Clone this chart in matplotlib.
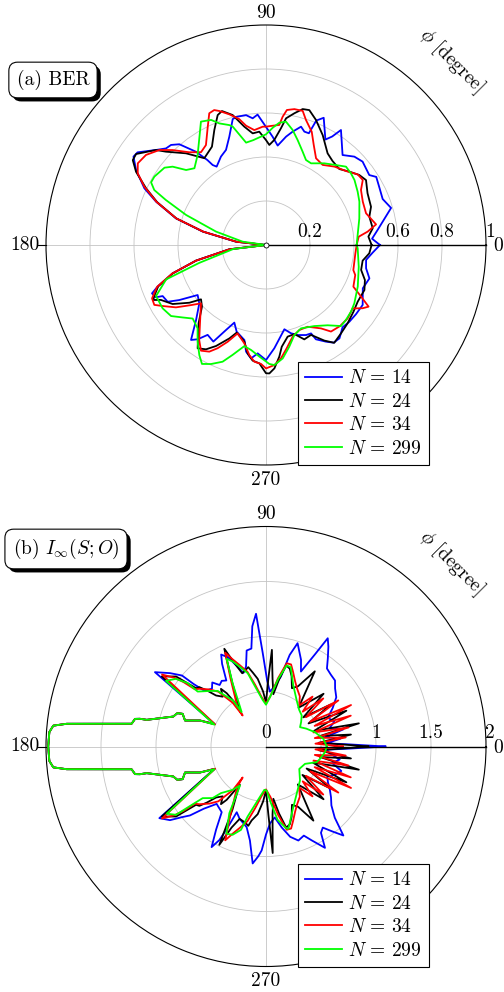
import numpy as np
import matplotlib
matplotlib.use("Agg")
import matplotlib.pyplot as plt
from matplotlib import patheffects

plt.rcParams['mathtext.fontset'] = 'cm'
plt.rcParams['font.family'] = ['cmr10', 'DejaVu Serif']
plt.rcParams['axes.formatter.use_mathtext'] = True

# ---------------- data : panel (a) BER ----------------
SERIES_LABELS = [r'$N\,=\,14$', r'$N\,=\,24$', r'$N\,=\,34$', r'$N\,=\,299$']
SERIES_COLORS = ['#0000ff', '#000000', '#ff0000', '#00ff00']

BER_T_14 = [0, 3.4, 7.7, 16.5, 21.5, 27, 31.7, 34.1, 40.8, 45, 49.6, 56.9, 58.6, 60.6, 65.6, 68, 69, 71.3, 73.5, 76.8,
            79.5, 83.3, 86.5, 89.5, 93.7, 96, 98.7, 102.9, 104.8, 108.7, 112.8, 117, 122.2, 123.7, 124.6, 126.9, 130.7,
            133.5, 136, 139.2, 144.2, 146.3, 150, 155, 158.5, 163.5, 168, 173.7, 180, 186.7, 192.6, 196.9, 201, 203,
            205.4, 206.3, 210, 212.4, 216.2, 221.2, 227, 231.7, 234.1, 237, 241.4, 244.8, 247.8, 251.3, 257.2, 259.4,
            262.5, 265.6, 270, 274.6, 282.3, 285.8, 289.4, 294, 297, 297.9, 301.8, 304.7, 308.2, 312.9, 317.4, 322.5,
            328.2, 335.9, 342.1, 346.9, 351.5, 355.9, 360]
BER_R_14 = [.518, .483, .512, .593, .57, .578, .589, .567, .58, .568, .537, .624, .578, .55, .635, .61, .544, .544, .561, .529,
            .501, .455, .493, .53, .594, .579, .597, .598, .592, .52, .469, .451, .421, .437, .469, .53, .604,
            .627, .632, .661, .72, .724, .682, .61, .537, .427, .294, .137, 0, .168, .326, .443, .528, .563,
            .554, .524, .516, .467, .385, .403, .466, .55, .529, .487, .5, .427, .381, .416, .443, .493,
            .52, .494, .523, .471, .392, .417, .434, .448, .451, .485, .517, .54, .54, .511, .515, .516,
            .517, .482, .494, .467, .46, .486, .518]

BER_T_24 = [0, 4.7, 8.9, 15.3, 20, 27, 33, 36.9, 41.3, 46, 51.6, 56.1, 62.7, 68.2, 72.2, 74.9, 77.9, 81, 82.7, 85.5,
            88.1, 90, 93.4, 96.8, 100.4, 104.4, 108.2, 110.4, 114.2, 118.8, 125.4, 131.1, 137, 139.2, 145, 147.5, 150.6,
            154.7, 158.5, 163.5, 168, 173.7, 180, 186.7, 192.6, 196.9, 201, 204.5, 206, 207.6, 212.3, 217, 219.9, 223.9,
            229.3, 236.5, 240.1, 243.7, 248.6, 251.5, 257.4, 260.4, 263.4, 266.8, 270, 271.5, 273.9, 276.8, 278.8, 283.3,
            287.7, 292.1, 296.6, 301.4, 304.9, 310.3, 316.2, 322.7, 328.3, 335.4, 340.5, 345.3, 350.8, 355.4, 360]
BER_R_24 = [.48, .467, .491, .487, .508, .518, .542, .53, .505, .48, .487, .502, .562, .612, .644, .64, .612, .583, .535, .479,
            .455, .477, .516, .511, .547, .61, .641, .63, .573, .51, .484, .553, .622, .661, .721, .718, .678,
            .603, .532, .425, .292, .136, 0, .168, .326, .443, .525, .558, .57, .539, .502, .436, .385, .404,
            .47, .563, .547, .512, .456, .42, .45, .5, .529, .539, .583, .584, .562, .511, .468, .428,
            .425, .463, .457, .509, .542, .527, .514, .5, .49, .492, .477, .447, .445, .471, .48]

BER_T_34 = [0, 5.1, 7.5, 10.6, 17.6, 24.1, 30.1, 33.9, 37.6, 42.8, 48.9, 54.7, 60, 64.5, 68, 72.3, 74.7, 78.2, 81.2, 82.6,
            83.7, 86.8, 90, 91.6, 95.8, 99.5, 102, 105.7, 109.2, 111, 113.3, 116.6, 121, 125, 129.6, 134.5, 138.3,
            143.1, 147.5, 150.8, 154.4, 158.5, 163.5, 168, 173.7, 180, 186.7, 192.6, 196.9, 201, 205.1, 208.2, 210.6,
            214.7, 218.7, 221.9, 229.9, 234.9, 238.4, 242, 244.9, 248.4, 252.2, 257.6, 261.4, 264.3, 267.6, 270, 274,
            277.5, 281.3, 286.2, 291.4, 297, 303.4, 306.9, 312.4, 318.1, 323.8, 326.8, 329, 331.5, 334.5, 341.4, 344,
            354.7, 360]
BER_R_34 = [.412, .423, .466, .509, .477, .482, .499, .53, .526, .495, .473, .446, .455, .504, .555, .597, .632, .631, .621, .588,
            .549, .543, .538, .538, .525, .55, .585, .617, .645, .657, .652, .593, .53, .515, .547, .605, .649,
            .682, .691, .668, .613, .535, .425, .292, .136, 0, .168, .326, .445, .53, .572, .576, .545,
            .498, .437, .397, .466, .528, .564, .549, .518, .473, .422, .458, .506, .533, .541, .561, .547,
            .52, .479, .434, .415, .417, .454, .492, .499, .499, .488, .525, .544, .492, .44, .428, .413,
            .408, .412]

BER_T_299 = [0, 6.2, 15.9, 24.9, 30.2, 36.3, 40.1, 44.4, 48.8, 54.5, 61.1, 64.8, 68.6, 73.2, 77, 80.8, 83.8, 86.7, 90, 97,
             101, 105.7, 107, 111, 113.7, 117.8, 122, 127.2, 133, 136.8, 140, 142.7, 148.5, 151.4, 153.8, 155.8, 159.4,
             165, 171.9, 180, 187, 195, 199, 204.9, 211.5, 216.8, 221, 225.1, 230.6, 234.7, 238.8, 241.7, 245.2, 249.6,
             253.1, 257.9, 261.9, 266.6, 271.6, 274, 278.4, 282.9, 287.5, 292.8, 300.8, 307.5, 312.8, 316.8, 321.9,
             326.6, 335.6, 346.8, 357.9, 360]
BER_R_299 = [.412, .419, .441, .468, .482, .499, .505, .509, .483, .456, .424, .427, .456, .498, .537, .568, .559, .534, .503, .48,
             .474, .559, .57, .592, .621, .634, .572, .514, .477, .498, .554, .58, .595, .595, .566, .499, .388,
             .235, .107, 0, .15, .314, .48, .551, .551, .539, .502, .472, .49, .538, .585, .614, .596, .566,
             .522, .47, .482, .508, .541, .547, .521, .474, .429, .411, .429, .46, .502, .498, .491,
             .481, .458, .433, .417, .412]

# ---------------- data : panel (b) I_inf(S;O) ----------------
# shared part of the curves around 180 degrees (after the 156 deg notch, up to the 204 deg notch)
LOBE_T = [158.5, 162.2, 158.6, 159.4, 162.1, 167.4, 167.6, 168.1, 169.7, 170.4, 172.2, 173.5, 174.4, 176.2, 180.0,
          183.8, 185.6, 186.5, 187.8, 189.6, 190.3, 191.9, 192.4, 192.6, 197.9, 200.6, 201.4, 197.8, 201.5]
LOBE_R = [0.645, 0.773, 0.814, 0.861, 0.886, 1.111, 1.173, 1.217, 1.232, 1.24, 1.523, 1.824, 1.943, 1.974, 1.98,
          1.974, 1.943, 1.824, 1.523, 1.24, 1.232, 1.217, 1.173, 1.111, 0.886, 0.861, 0.814, 0.773, 0.645]

INF_T_14_UP = [0, 1.5, 3, 6, 9, 12.5, 16, 20, 25, 30, 35, 40, 43.7, 48, 52, 55, 58, 60.3, 62, 65,
               68, 73, 75.5, 78, 82, 86, 89, 92, 94.3, 96.5, 98.5, 101.4, 104, 107, 110, 113, 116, 118, 121, 124,
               127, 130, 133, 137.8, 139.2, 139.8, 142.6, 146.2, 156.5]
INF_R_14_UP = [1.085, .75, .55, .68, .55, .72, .60, .66, .62, .70, .78, .82, .868, .88, .90, .98, 1.07, 1.133, .95, .752,
               .85, .982, .86, .65, .55, .50, .60, .85, 1.21, 1.10, .90, .89, .75, .70, .78, .88, .93, .85, .70, .72,
               .70, .76, .72, .749, .87, 1.0, 1.098, 1.215, .51]
INF_T_14_LO = [203.5, 213.9, 217.5, 220, 222.2, 225, 229.3, 232, 236, 239, 241.6, 243.5, 244.5, 246, 250, 256.5, 260.3,
               263.5, 266, 267.6, 270, 273, 277, 281, 285, 289, 293, 296, 300.2, 302.5, 305, 308, 311, 314, 318, 322,
               326, 330, 334, 338, 342, 346, 350, 354, 357, 358.5, 360]
INF_R_14_LO = [.51, 1.168, 1.10, 1.0, .933, .80, .688, .70, .72, .88, 1.04, .95, .837, .654, .70, .754, .867,
               1.07, 1.0, .946, .80, .70, .65, .75, .85, .904, .88, .95, 1.066, .93, .90, .98, 1.072, .90, .80, .75,
               .70, .65, .62, .68, .72, .62, .68, .58, .55, .75, 1.085]

INF_T_24_UP = [0, 1.5, 4, 8, 11, 14, 18, 24, 28.5, 33, 38, 42.5, 50, 57, 62, 66, 70, 73, 76, 79, 82, 84.5, 86.5, 88, 90,
               93, 97, 100, 102.6, 105.4, 108, 110.5, 113.1, 118, 122.6, 124.5, 126.4, 128, 131, 134.4, 136.5, 138.3,
               140.2, 142.1, 146.1, 156.5]
INF_R_24_UP = [.93, .70, .48, .78, .50, .87, .46, .80, .44, .70, .43, .71, .46, .815, .62, .58, .68, .74, .76, .62, .48, .62,
               .88, .62, .40, .50, .62, .68, .739, .717, .70, .80, .966, .65, .478, .42, .602, .665, .60, .649, .74, .811,
               .828, 1.036, 1.142, .51]
INF_T_24_LO = [203.5, 213.9, 217.9, 219.8, 221.7, 223.5, 225.6, 229, 232, 233.6, 235.5, 237.4, 242, 244.6, 247, 250, 254.6,
               257.4, 259, 263, 267, 270, 272, 273.6, 275.5, 278, 281, 284, 287, 290, 294, 298, 302.6, 310, 317.5, 322,
               327, 331.5, 336, 341, 346, 349, 352, 356, 358.5, 360]
INF_R_24_LO = [.51, 1.142, 1.036, .828, .811, .74, .649, .60, .665, .602, .42, .478, .65, .99, .80, .70, .717,
               .739, .685, .62, .50, .40, .62, .97, .62, .48, .62, .76, .74, .68, .58, .62, .80, .45, .71, .42,
               .70, .42, .80, .45, .87, .50, .78, .48, .70, .93]

INF_T_34_UP = [0, 3.3, 6.5, 9.8, 13, 16.5, 20, 23, 26, 29.3, 32.5, 36.3, 40, 43.5, 47, 51, 56, 62, 66, 70, 73, 76, 80, 85,
               90, 95, 100, 104, 108, 111, 113.5, 117.5, 125.5, 127, 127.3, 131, 134.7, 139, 141.2, 142, 143.1, 145.3, 156.5]
INF_R_34_UP = [.70, .45, .73, .45, .77, .45, .82, .48, .86, .46, .78, .45, .68, .46, .62, .48, .55, .60, .65, .72, .78, .78,
               .63, .46, .39, .45, .57, .70, .78, .85, .93, .70, .45, .353, .50, .66, .73, .80, .83, .95, 1.04, 1.15, .505]
INF_T_34_LO = [203.5, 214.7, 216.9, 218, 218.8, 221, 225.3, 229, 232.7, 233, 234.5, 242.5, 246.5, 249, 252, 256, 260, 265,
               270, 275, 280, 284, 287, 290, 294, 298, 304, 309, 313, 316.5, 320, 323.7, 327.5, 330.7, 334, 337, 340,
               343.5, 347, 350.2, 353.5, 356.7, 360]
INF_R_34_LO = [.505, 1.15, 1.04, .95, .83, .80, .73, .66, .50, .353, .45, .70, .93, .85, .78, .70, .57, .45,
               .39, .46, .63, .78, .78, .72, .65, .60, .55, .48, .62, .46, .68, .45, .78, .46, .86, .48, .82,
               .45, .77, .45, .73, .45, .70]

INF_T_299_UP = [0, 7.6, 16.3, 24, 29.6, 35, 41, 48, 56.3, 65.9, 72.7, 75.7, 79.7, 85.4, 90, 94.1, 99.7, 104, 108.4, 111.4,
                114.2, 117.8, 125.3, 125.6, 131, 134.7, 141.2, 141, 143.1, 146.7, 157]
INF_R_299_UP = [.552, .526, .464, .40, .356, .39, .43, .45, .503, .608, .755, .76, .625, .45, .38, .425, .538, .687, .767, .83,
                .874, .651, .383, .513, .67, .711, .797, .916, 1.024, 1.088, .509]
INF_T_299_LO = [203.7, 214.1, 217.2, 218, 219.2, 224, 226, 232.4, 236.3, 241.2, 245.5, 249.3, 253.3, 255.3, 260, 267.8,
                270.9, 275, 279, 283.8, 285.2, 292.8, 302.9, 315, 326, 336, 342.8, 347, 354.5, 360]
INF_R_299_LO = [.513, 1.09, 1.027, .885, .743, .675, .589, .497, .426, .692, .87, .858, .791, .658, .523, .394,
                .40, .517, .675, .764, .776, .625, .513, .437, .365, .388, .482, .503, .539, .552]

BER_SERIES = [(BER_T_14, BER_R_14), (BER_T_24, BER_R_24), (BER_T_34, BER_R_34), (BER_T_299, BER_R_299)]
INF_SERIES = [(INF_T_14_UP + LOBE_T + INF_T_14_LO, INF_R_14_UP + LOBE_R + INF_R_14_LO),
              (INF_T_24_UP + LOBE_T + INF_T_24_LO, INF_R_24_UP + LOBE_R + INF_R_24_LO),
              (INF_T_34_UP + LOBE_T + INF_T_34_LO, INF_R_34_UP + LOBE_R + INF_R_34_LO),
              (INF_T_299_UP + LOBE_T + INF_T_299_LO, INF_R_299_UP + LOBE_R + INF_R_299_LO)]

W, H = 504, 992
fig = plt.figure(figsize=(W / 100, H / 100), dpi=100)
FS = 14


def fx(x, y):
    return x / W, 1 - y / H


def ftext(x, y, s, **kw):
    kw.setdefault('fontsize', FS)
    kw.setdefault('ha', 'center')
    kw.setdefault('va', 'center')
    return fig.text(*fx(x, y), s, **kw)


def panel(cy, rmax, rgrid, rlabels, series, title, title_xy, leg_top, center_marker):
    cx, R = 266, 220
    ax = fig.add_axes([(cx - R) / W, 1 - (cy + R) / H, 2 * R / W, 2 * R / H], projection='polar')
    ax.set_rlim(0, rmax)
    ax.set_rticks(rgrid)
    ax.set_yticklabels([])
    ax.set_thetagrids([0, 90, 180, 270], labels=[''] * 4)
    ax.tick_params(axis='x', length=0, pad=0)
    ax.grid(True, color='#c4c4c4', lw=0.6)
    ax.spines['polar'].set_linewidth(0.8)
    ax.spines['polar'].set_color('black')
    for (t, r), c, lab in zip(series, SERIES_COLORS, SERIES_LABELS):
        ax.plot(np.deg2rad(t), r, color=c, lw=1.3, label=lab, solid_joinstyle='round', zorder=3)
    # radial axis line and the tick at 180 deg
    ax.plot([0, 0], [0, rmax], color='black', lw=1.0, zorder=4, clip_on=False)
    ax.plot([np.pi, np.pi], [rmax, rmax * 1.035], color='black', lw=0.8, clip_on=False)
    if center_marker:
        ax.plot([0], [0], 'o', ms=3.6, mfc='white', mec='black', mew=0.6, zorder=5)
    # labels
    for v, s, xo in rlabels:
        ftext(cx + v / rmax * R + xo, cy - 13, s)
    ftext(cx, cy - 232, '90')
    ftext(25, cy, '180')
    ftext(cx, cy + 235, '270')
    ftext(498, cy + 1.5, '0')
    ftext(452, cy - 184, r'$\phi$ [degree]', rotation=-45)
    # title box with drop shadow
    tx, ty = title_xy
    t = ftext(tx, ty, title,
              bbox=dict(boxstyle='round,pad=0.4,rounding_size=0.45', fc='white', ec='black', lw=0.8))
    t.get_bbox_patch().set_path_effects([
        patheffects.SimplePatchShadow(offset=(2.6, -2.6), shadow_rgbFace='black', alpha=1.0),
        patheffects.Normal()])
    leg = ax.legend(loc='upper left', bbox_to_anchor=fx(298, leg_top), bbox_transform=fig.transFigure,
                    borderaxespad=0, fancybox=False, edgecolor='black', framealpha=1, fontsize=FS,
                    handlelength=1.9, handletextpad=0.3, labelspacing=0.28, borderpad=0.38)
    leg.get_frame().set_linewidth(0.8)
    leg.set_zorder(10)
    return ax


panel(245, 1.0, [0.2, 0.4, 0.6, 0.8],
      [(0.2, '0.2', 0), (0.6, '0.6', 0), (0.8, '0.8', 0), (1.0, '1', 4)],
      BER_SERIES, '(a) BER', (53, 80), 362, True)
panel(746.5, 2.0, [0.5, 1.0, 1.5],
      [(0.0, '0', 0.5), (1.0, '1', 0), (1.5, '1.5', 0), (2.0, '2', 4)],
      INF_SERIES, r'(b) $I_\infty(S;O)$', (66, 549), 864, False)

fig.savefig('out.png', dpi=100)
